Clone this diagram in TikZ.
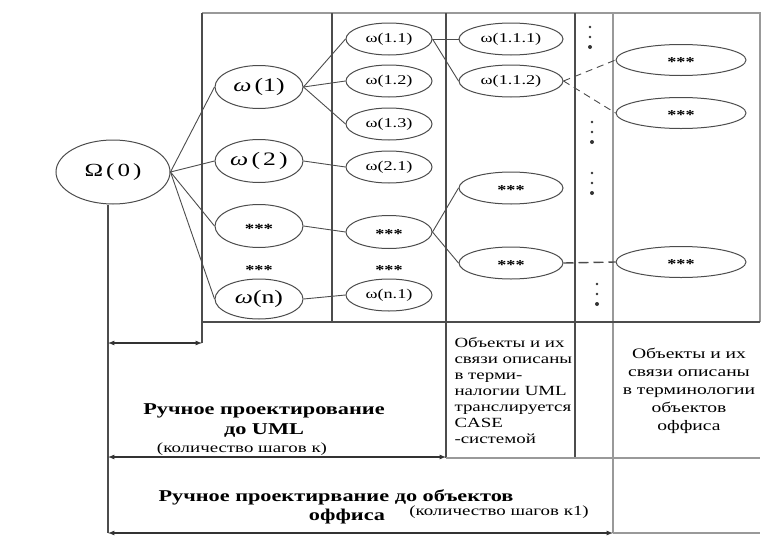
\documentclass[tikz,border=0pt]{standalone}
\usepackage{fontspec}
\setmainfont{Liberation Serif}[FakeStretch=1.35]
\usetikzlibrary{shapes.geometric}
\newcommand{\starrow}{\smash{\raisebox{-.5em}{\textbf{***}}}}

\begin{document}
\begin{tikzpicture}[x=1pt,y=-1pt,
		oval/.style={ellipse,draw=black!70,line width=1pt,inner sep=0pt},
		top/.style={oval,minimum width=88,minimum height=43,font=\fontsize{19}{22}\selectfont},
		sub/.style={oval,minimum width=86,minimum height=32,font=\fontsize{13.5}{15}\selectfont},
		leaf/.style={oval,minimum width=104,minimum height=32,font=\fontsize{13.5}{15}\selectfont},
		obj/.style={oval,minimum width=130,minimum height=31,font=\fontsize{13.5}{15}\selectfont},
		link/.style={draw=black!70,line width=.9pt},
		grid/.style={draw=black!70,line width=1.1pt},
		pale/.style={draw=black!40,line width=1.6pt},
		span/.style={draw=black!80,line width=1.2pt,latex-latex},
		head/.style={font=\fontsize{16.5}{20}\selectfont\bfseries,align=center},
		note/.style={font=\fontsize{14}{16}\selectfont}]
	\useasboundingbox (0,0) rectangle (769,544);
	% table
	\draw[pale] (202,13) -- (760,13) -- (760,322);
	\draw[grid] (202,13) -- (202,343);
	\draw[grid] (332,13) -- (332,322);
	\draw[grid] (446,13) -- (446,458);
	\draw[grid] (575,13) -- (575,458);
	\draw[pale] (613,13) -- (613,533);
	\draw[grid] (202,322) -- (760,322);
	\draw[pale] (446,458) -- (760,458);
	\draw[pale] (613,533) -- (760,533);
	% nodes
	\node[oval,minimum width=114,minimum height=64,font=\fontsize{18.5}{22}\selectfont] (O) at (113,172) {Ω\,(\,0\,)};
	\node[top] (w1) at (259,87) {\textit{ω}\,(1)};
	\node[top] (w2) at (259,161) {\textit{ω}\,(\,2\,)};
	\node[top,font=\fontsize{14}{16}\selectfont] (w3) at (259,226) {\starrow};
	\node[top,minimum height=40] (wn) at (259,299) {\textit{ω}(n)};
	\node[sub] (w11) at (389,39) {ω(1.1)};
	\node[sub] (w12) at (389,81) {ω(1.2)};
	\node[sub] (w13) at (389,124) {ω(1.3)};
	\node[sub] (w21) at (389,167) {ω(2.1)};
	\node[sub,minimum height=33] (w31) at (389,232) {\starrow};
	\node[sub] (wn1) at (389,295) {ω(n.1)};
	\node[leaf] (w111) at (511,39) {ω(1.1.1)};
	\node[leaf] (w112) at (511,81) {ω(1.1.2)};
	\node[leaf] (x1) at (511,188) {\starrow};
	\node[leaf] (x2) at (511,263) {\starrow};
	\node[obj] (y1) at (681,60) {\starrow};
	\node[obj] (y2) at (681,113) {\starrow};
	\node[obj] (y3) at (681,262) {\starrow};
	\node[font=\fontsize{13.5}{15}\selectfont] (d1) at (259,268) {\starrow};
	\node[font=\fontsize{13.5}{15}\selectfont] (d2) at (389,268) {\starrow};
	\foreach \x/\y in {590/27,592/122,592/173,597/284}{
		\fill[black!80] (\x,\y) circle (1.3) (\x,\y+10) circle (1.3) (\x,\y+20) circle (2);
	}
	% links
	\foreach \n in {w1,w2,w3,wn} \draw[link] (O.east) -- (\n.west);
	\foreach \n in {w11,w12,w13} \draw[link] (w1.east) -- (\n.west);
	\draw[link] (w2.east) -- (w21.west);
	\draw[link] (w3.east) -- (w31.west);
	\draw[link] (wn.east) -- (wn1.west);
	\foreach \n in {w111,w112} \draw[link] (w11.east) -- (\n.west);
	\foreach \n in {x1,x2} \draw[link] (w31.east) -- (\n.west);
	\foreach \n in {y1,y2} \draw[link,dash pattern=on 7pt off 5pt] (w112.east) -- (\n.west);
	\draw[link,line width=1.4pt,dash pattern=on 10pt off 5pt] (x2.east) -- (y3.west);
	% spans
	\coordinate (a0) at (108,343);
	\coordinate (a1) at (202,343);
	\coordinate (b0) at (108,457);
	\coordinate (b1) at (446,457);
	\coordinate (c0) at (108,533);
	\coordinate (c1) at (613,533);
	\draw[grid] (O.south -| c0) -- (c0);
	\draw[span] (a0) -- (a1);
	\draw[span] (b0) -- (b1);
	\draw[span] (c0) -- (c1);
	% texts
	\node[head] (man1) at (264,421) {Ручное проектирование\\до UML};
	\node[note] (k1) at (242,449) {(количество шагов к)};
	\node[head] (man2) at (336,497) {Ручное проектирвание до объектов};
	\node[head] (off1) at (347,517) {оффиса};
	\node[note] (k2) at (499,512) {(количество шагов к1)};
	\node[note,align=left,anchor=west] (uml) at (451,391) {Объекты и их\\связи описаны\\в терми-\\налогии UML\\транслируется\\CASE\\-системой};
	\node[font=\fontsize{14.5}{18}\selectfont,align=center] (off2) at (689,391) {Объекты и их\\связи описаны\\в терминологии\\объектов\\оффиса};
\end{tikzpicture}
\end{document}
